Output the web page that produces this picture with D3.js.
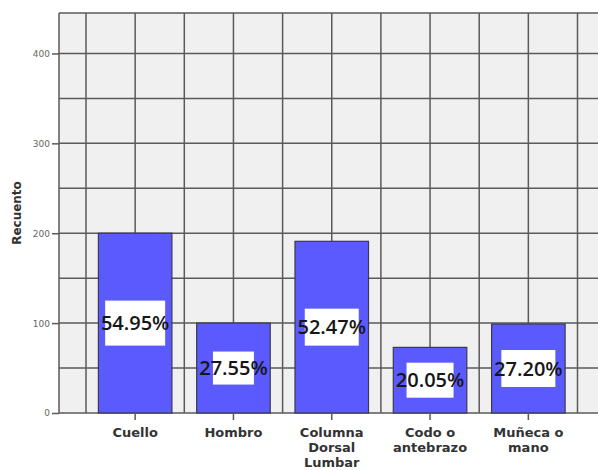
<!DOCTYPE html>
<html>
<head>
<meta charset="utf-8">
<script src="https://cdn.jsdelivr.net/npm/d3@7"></script>
<style>
    body { margin: 0; background: #fff; }
    svg { display: block; }
</style>
</head>
<body>
<svg id="chart" width="598" height="470"></svg>
<script>
// data
var categories = ["Cuello", "Hombro", "Columna Dorsal Lumbar", "Codo o antebrazo", "Muñeca o mano"];
var categoryLines = [["Cuello"], ["Hombro"], ["Columna", "Dorsal", "Lumbar"], ["Codo o", "antebrazo"], ["Muñeca o", "mano"]];
var counts = [200, 100, 191, 73, 99];
var percentLabels = ["54.95%", "27.55%", "52.47%", "20.05%", "27.20%"];
var yTicks = [0, 100, 200, 300, 400];

// white label boxes differ a little per bar in the original
var boxW = [60, 41, 54, 47, 54];
var boxH = [45, 33, 37, 35, 37];

var svg = d3.select("#chart");

var plot = { left: 59, top: 13, right: 605, bottom: 413 };

var x = d3.scaleBand()
    .domain(categories)
    .range([86, 577.5])
    .paddingInner(0.252)
    .paddingOuter(0.126);

var y = d3.scaleLinear()
    .domain([0, 445])
    .range([plot.bottom, plot.top]);

// plot background
svg.append("rect")
    .attr("x", plot.left)
    .attr("y", plot.top)
    .attr("width", plot.right - plot.left)
    .attr("height", plot.bottom - plot.top)
    .style("fill", "#f0f0f0");

var grid = svg.append("g")
    .attr("stroke", "#5a5a5a")
    .attr("stroke-width", 1.5);

// horizontal grid every 50
d3.range(0, 450, 50).forEach(function (v) {
    grid.append("line")
        .attr("x1", plot.left)
        .attr("x2", plot.right)
        .attr("y1", y(v))
        .attr("y2", y(v));
});

// vertical grid at slot edges and centres
var step = x.step();
var x0 = x.range()[0];
for (var i = 0; i <= categories.length * 2; i++) {
    grid.append("line")
        .attr("x1", x0 + i * step / 2)
        .attr("x2", x0 + i * step / 2)
        .attr("y1", plot.top)
        .attr("y2", plot.bottom);
}

// frame
grid.append("line")
    .attr("x1", plot.left).attr("x2", plot.left)
    .attr("y1", plot.top).attr("y2", plot.bottom);
grid.append("line")
    .attr("x1", plot.left).attr("x2", plot.right)
    .attr("y1", plot.top).attr("y2", plot.top);

// bars
svg.selectAll("rect.bar")
    .data(counts)
    .enter()
    .append("rect")
    .attr("class", "bar")
    .attr("x", function (d, i) { return x(categories[i]); })
    .attr("y", function (d) { return y(d); })
    .attr("width", x.bandwidth())
    .attr("height", function (d) { return y(0) - y(d); })
    .style("fill", "#5a5aff")
    .style("stroke", "#3a3a4a")
    .style("stroke-width", 1.2);

// y axis
var yAxis = svg.append("g")
    .attr("transform", "translate(" + plot.left + ",0)")
    .call(d3.axisLeft(y).tickValues(yTicks).tickSize(7).tickPadding(2));
yAxis.select(".domain").remove();
yAxis.selectAll(".tick line").attr("stroke", "#5a5a5a").attr("stroke-width", 1.5);
yAxis.selectAll(".tick text")
    .style("font-family", "DejaVu Sans")
    .style("font-size", "9px")
    .style("fill", "#666");

// x axis ticks
var xAxis = svg.append("g")
    .attr("transform", "translate(0," + plot.bottom + ")")
    .call(d3.axisBottom(x).tickSize(7).tickFormat(""));
xAxis.select(".domain").remove();
xAxis.selectAll(".tick line").attr("stroke", "#5a5a5a").attr("stroke-width", 1.5);

// x category labels (multi-line)
categories.forEach(function (c, i) {
    var t = svg.append("text")
        .attr("x", x(c) + x.bandwidth() / 2)
        .attr("y", 437)
        .attr("text-anchor", "middle")
        .style("font-family", "DejaVu Sans")
        .style("font-size", "13px")
        .style("font-weight", "bold")
        .style("fill", "#333");
    categoryLines[i].forEach(function (line, k) {
        t.append("tspan")
            .attr("x", x(c) + x.bandwidth() / 2)
            .attr("dy", k == 0 ? 0 : 15)
            .text(line);
    });
});

// y title
svg.append("text")
    .attr("transform", "translate(21,213) rotate(-90)")
    .attr("text-anchor", "middle")
    .style("font-family", "DejaVu Sans")
    .style("font-size", "12px")
    .style("font-weight", "bold")
    .style("fill", "#333")
    .text("Recuento");

// percentage labels with white boxes at half bar height
var labels = svg.selectAll("g.lab")
    .data(counts)
    .enter()
    .append("g")
    .attr("class", "lab")
    .attr("transform", function (d, i) {
        return "translate(" + (x(categories[i]) + x.bandwidth() / 2) + "," + y(d / 2) + ")";
    });

labels.append("rect")
    .attr("x", function (d, i) { return -boxW[i] / 2; })
    .attr("y", function (d, i) { return -boxH[i] / 2; })
    .attr("width", function (d, i) { return boxW[i]; })
    .attr("height", function (d, i) { return boxH[i]; })
    .style("fill", "#fff");

labels.append("text")
    .attr("text-anchor", "middle")
    .attr("dy", "0.36em")
    .style("font-family", "Open Sans")
    .style("font-size", "20px")
    .style("font-weight", "600")
    .style("fill", "#161616")
    .text(function (d, i) { return percentLabels[i]; });
</script>
</body>
</html>
